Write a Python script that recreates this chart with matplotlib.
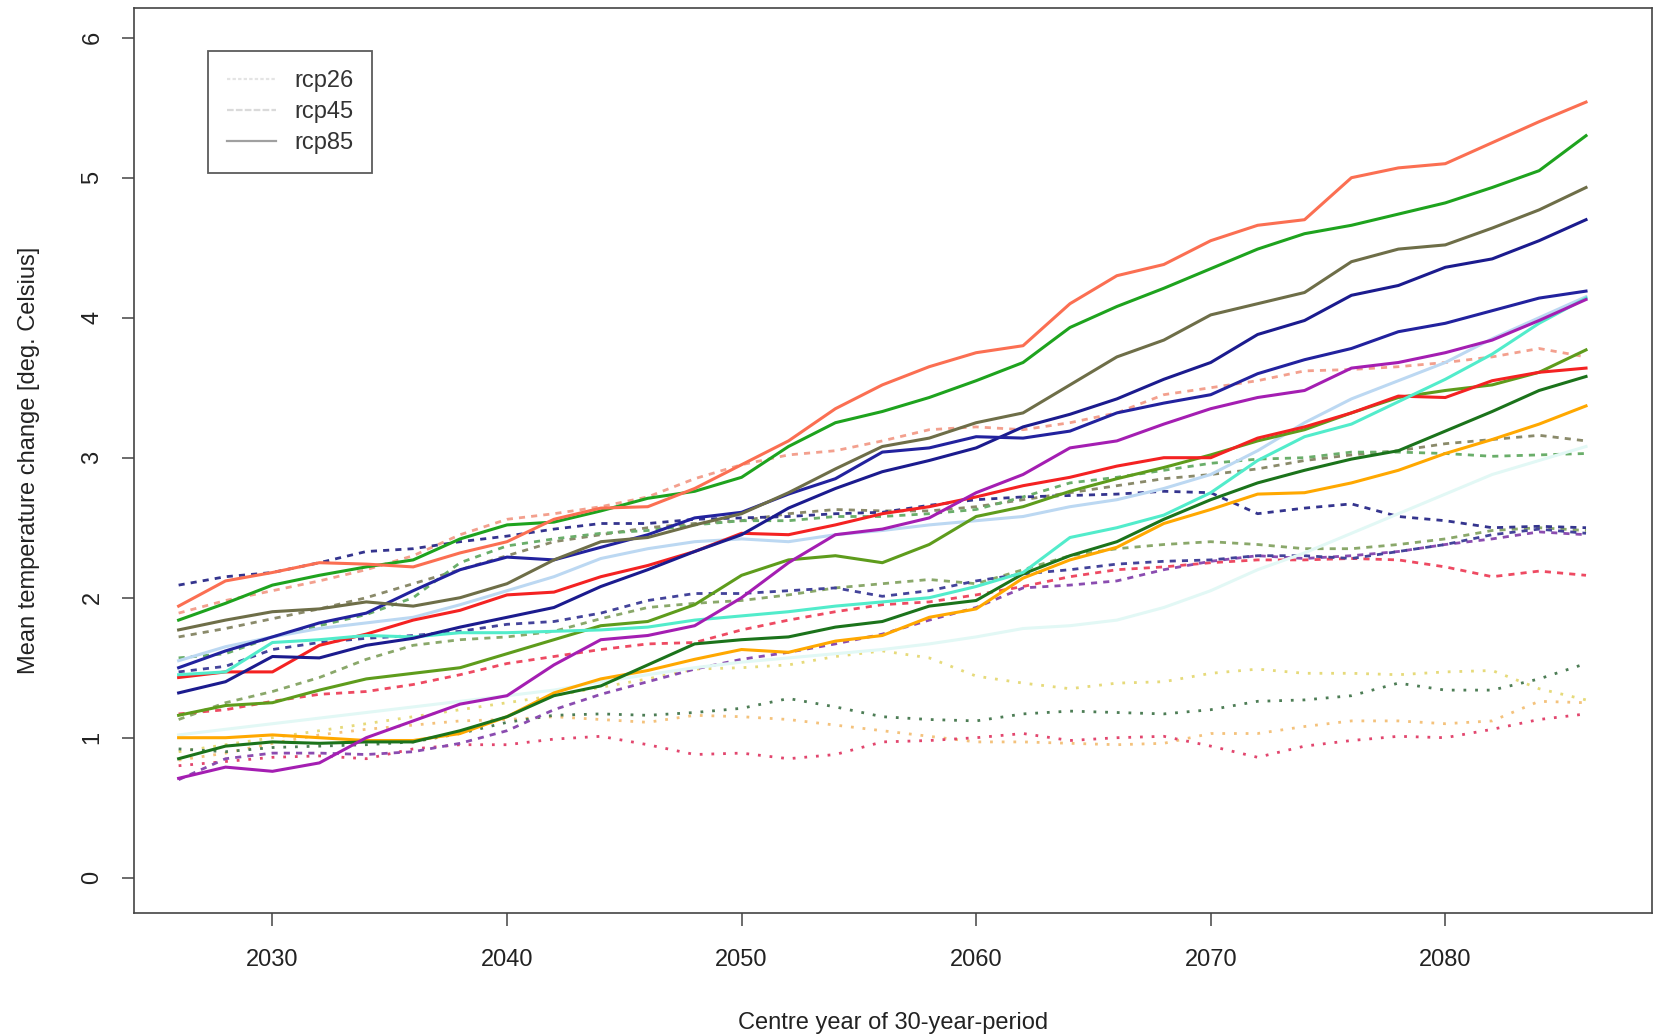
"""
Mean temperature change per model and scenario (rcp26 dotted, rcp45 dashed, rcp85 solid),
30-year running periods. Values read off the original figure.
Output: out.png
"""
import matplotlib.pyplot as plt
from matplotlib.lines import Line2D

# centre years of the 30-year periods (every second year)
years = [2026, 2028, 2030, 2032, 2034, 2036, 2038, 2040, 2042, 2044, 2046,
         2048, 2050, 2052, 2054, 2056, 2058, 2060, 2062, 2064, 2066, 2068,
         2070, 2072, 2074, 2076, 2078, 2080, 2082, 2084, 2086]

# --- rcp85 (solid) ---
salmon_85 = [1.94, 2.12, 2.18, 2.25, 2.24, 2.22, 2.32, 2.40, 2.56, 2.64, 2.65, 2.78, 2.95, 3.12, 3.35, 3.52,
             3.65, 3.75, 3.80, 4.10, 4.30, 4.38, 4.55, 4.66, 4.70, 5.00, 5.07, 5.10, 5.25, 5.40, 5.54]
green_85 = [1.84, 1.96, 2.09, 2.16, 2.22, 2.27, 2.42, 2.52, 2.54, 2.62, 2.71, 2.76, 2.86, 3.08, 3.25, 3.33,
            3.43, 3.55, 3.68, 3.93, 4.08, 4.21, 4.35, 4.49, 4.60, 4.66, 4.74, 4.82, 4.93, 5.05, 5.30]
olive_85 = [1.77, 1.84, 1.90, 1.92, 1.97, 1.94, 2.00, 2.10, 2.27, 2.40, 2.43, 2.52, 2.60, 2.75, 2.92, 3.08,
            3.14, 3.25, 3.32, 3.52, 3.72, 3.84, 4.02, 4.10, 4.18, 4.40, 4.49, 4.52, 4.64, 4.77, 4.93]
navy_a_85 = [1.32, 1.40, 1.58, 1.57, 1.66, 1.71, 1.79, 1.86, 1.93, 2.08, 2.20, 2.33, 2.45, 2.64, 2.78, 2.90,
             2.98, 3.07, 3.22, 3.31, 3.42, 3.56, 3.68, 3.88, 3.98, 4.16, 4.23, 4.36, 4.42, 4.55, 4.70]
navy_b_85 = [1.50, 1.62, 1.72, 1.82, 1.89, 2.05, 2.20, 2.29, 2.27, 2.36, 2.45, 2.57, 2.61, 2.74, 2.85, 3.04,
             3.07, 3.15, 3.14, 3.19, 3.32, 3.39, 3.45, 3.60, 3.70, 3.78, 3.90, 3.96, 4.05, 4.14, 4.19]
lightblue_85 = [1.55, 1.65, 1.72, 1.78, 1.82, 1.86, 1.95, 2.05, 2.15, 2.28, 2.35, 2.40, 2.42, 2.40, 2.45, 2.48,
                2.52, 2.55, 2.58, 2.65, 2.70, 2.78, 2.88, 3.05, 3.25, 3.42, 3.55, 3.68, 3.85, 4.00, 4.15]
magenta_85 = [0.71, 0.79, 0.76, 0.82, 1.00, 1.12, 1.24, 1.30, 1.52, 1.70, 1.73, 1.80, 2.00, 2.25, 2.45, 2.49,
              2.57, 2.75, 2.88, 3.07, 3.12, 3.24, 3.35, 3.43, 3.48, 3.64, 3.68, 3.75, 3.84, 3.98, 4.13]
aqua_85 = [1.45, 1.47, 1.68, 1.70, 1.73, 1.72, 1.75, 1.75, 1.76, 1.77, 1.79, 1.84, 1.87, 1.90, 1.94, 1.97,
           2.00, 2.08, 2.18, 2.43, 2.50, 2.59, 2.75, 2.98, 3.15, 3.24, 3.40, 3.56, 3.74, 3.96, 4.14]
olivedrab_85 = [1.16, 1.23, 1.25, 1.34, 1.42, 1.46, 1.50, 1.60, 1.70, 1.80, 1.83, 1.95, 2.16, 2.27, 2.30, 2.25,
                2.38, 2.58, 2.65, 2.76, 2.85, 2.93, 3.02, 3.12, 3.20, 3.32, 3.43, 3.48, 3.52, 3.61, 3.77]
red_85 = [1.43, 1.47, 1.47, 1.66, 1.74, 1.84, 1.91, 2.02, 2.04, 2.15, 2.23, 2.33, 2.46, 2.45, 2.52, 2.60,
          2.65, 2.72, 2.80, 2.86, 2.94, 3.00, 3.00, 3.14, 3.22, 3.32, 3.44, 3.43, 3.55, 3.61, 3.64]
dkgreen_85 = [0.85, 0.94, 0.97, 0.96, 0.97, 0.97, 1.05, 1.15, 1.30, 1.37, 1.52, 1.67, 1.70, 1.72, 1.79, 1.83,
              1.94, 1.98, 2.17, 2.30, 2.40, 2.56, 2.70, 2.82, 2.91, 2.99, 3.05, 3.19, 3.33, 3.48, 3.58]
orange_85 = [1.00, 1.00, 1.02, 1.00, 0.98, 0.98, 1.03, 1.15, 1.32, 1.42, 1.48, 1.56, 1.63, 1.61, 1.69, 1.73,
             1.86, 1.92, 2.14, 2.27, 2.36, 2.53, 2.63, 2.74, 2.75, 2.82, 2.91, 3.03, 3.13, 3.24, 3.37]
lightcyan_85 = [1.02, 1.06, 1.10, 1.14, 1.18, 1.22, 1.26, 1.30, 1.34, 1.40, 1.45, 1.50, 1.54, 1.57, 1.60, 1.63,
                1.67, 1.72, 1.78, 1.80, 1.84, 1.93, 2.05, 2.20, 2.32, 2.46, 2.60, 2.74, 2.88, 2.98, 3.08]

# --- rcp45 (dashed) ---
navy_b_45 = [2.09, 2.15, 2.18, 2.25, 2.33, 2.35, 2.40, 2.44, 2.49, 2.53, 2.53, 2.56, 2.57, 2.58, 2.60, 2.61,
             2.66, 2.70, 2.72, 2.73, 2.74, 2.76, 2.75, 2.60, 2.64, 2.67, 2.58, 2.55, 2.50, 2.51, 2.50]
navy_a_45 = [1.47, 1.51, 1.63, 1.68, 1.71, 1.73, 1.76, 1.81, 1.83, 1.89, 1.98, 2.03, 2.03, 2.05, 2.07, 2.01,
             2.05, 2.12, 2.17, 2.20, 2.24, 2.26, 2.27, 2.30, 2.30, 2.28, 2.33, 2.38, 2.45, 2.49, 2.46]
salmon_45 = [1.89, 1.98, 2.05, 2.12, 2.20, 2.30, 2.45, 2.56, 2.60, 2.65, 2.72, 2.85, 2.95, 3.02, 3.05, 3.12,
             3.20, 3.22, 3.20, 3.25, 3.32, 3.45, 3.50, 3.55, 3.62, 3.63, 3.65, 3.68, 3.72, 3.78, 3.72]
green_45 = [1.57, 1.60, 1.72, 1.80, 1.88, 2.00, 2.25, 2.37, 2.42, 2.46, 2.48, 2.52, 2.55, 2.55, 2.58, 2.58,
            2.60, 2.63, 2.72, 2.82, 2.86, 2.91, 2.96, 2.99, 3.00, 3.04, 3.04, 3.03, 3.01, 3.02, 3.03]
olive_45 = [1.72, 1.78, 1.85, 1.92, 2.00, 2.10, 2.20, 2.30, 2.40, 2.45, 2.50, 2.53, 2.55, 2.60, 2.63, 2.62,
            2.62, 2.65, 2.70, 2.75, 2.80, 2.85, 2.88, 2.92, 2.98, 3.02, 3.05, 3.10, 3.13, 3.16, 3.12]
red_45 = [1.17, 1.20, 1.26, 1.31, 1.33, 1.38, 1.45, 1.53, 1.58, 1.63, 1.67, 1.68, 1.77, 1.84, 1.90, 1.95,
          1.97, 2.02, 2.08, 2.15, 2.20, 2.22, 2.25, 2.27, 2.27, 2.28, 2.27, 2.22, 2.15, 2.19, 2.16]
magenta_45 = [0.70, 0.85, 0.89, 0.89, 0.88, 0.90, 0.96, 1.05, 1.20, 1.31, 1.40, 1.49, 1.56, 1.61, 1.67, 1.74,
              1.84, 1.93, 2.07, 2.09, 2.12, 2.20, 2.26, 2.30, 2.28, 2.30, 2.33, 2.38, 2.42, 2.47, 2.45]
olivedrab_45 = [1.13, 1.25, 1.33, 1.43, 1.56, 1.66, 1.70, 1.72, 1.76, 1.85, 1.93, 1.96, 1.98, 2.02, 2.07, 2.10,
                2.13, 2.10, 2.20, 2.30, 2.35, 2.38, 2.40, 2.38, 2.35, 2.35, 2.38, 2.42, 2.48, 2.50, 2.48]

# --- rcp26 (dotted) ---
dkgreen_26 = [0.92, 0.90, 0.93, 0.94, 0.95, 0.97, 1.03, 1.11, 1.16, 1.17, 1.16, 1.18, 1.21, 1.28, 1.22, 1.15,
              1.13, 1.12, 1.17, 1.19, 1.18, 1.17, 1.20, 1.26, 1.27, 1.30, 1.39, 1.34, 1.34, 1.42, 1.53]
yellow_26 = [0.90, 0.95, 1.00, 1.05, 1.10, 1.15, 1.20, 1.25, 1.30, 1.36, 1.42, 1.49, 1.50, 1.52, 1.58, 1.62,
             1.57, 1.44, 1.39, 1.35, 1.39, 1.40, 1.46, 1.49, 1.46, 1.46, 1.45, 1.47, 1.48, 1.35, 1.27]
orange_26 = [0.84, 0.89, 0.96, 1.02, 1.06, 1.09, 1.12, 1.13, 1.15, 1.13, 1.11, 1.16, 1.15, 1.13, 1.09, 1.05,
             1.01, 0.97, 0.97, 0.96, 0.95, 0.96, 1.03, 1.03, 1.08, 1.12, 1.12, 1.10, 1.12, 1.26, 1.25]
red_26 = [0.80, 0.83, 0.86, 0.87, 0.85, 0.92, 0.95, 0.95, 0.99, 1.01, 0.95, 0.88, 0.89, 0.85, 0.88, 0.97,
          0.98, 1.00, 1.03, 0.98, 1.00, 1.01, 0.94, 0.86, 0.94, 0.98, 1.01, 1.00, 1.06, 1.13, 1.17]

scenarios = ["rcp26", "rcp45", "rcp85"]

DOTTED = (0, (1.0, 3.2))
DASHED = (0, (2.2, 2.2))


def main():
    plt.rcParams["font.family"] = ["Liberation Sans", "DejaVu Sans"]

    fig = plt.figure(figsize=(16.55, 10.36), dpi=100)
    ax = fig.add_axes([0.081, 0.119, 0.917, 0.873])

    # drawing order: rcp26, rcp45, then rcp85 on top
    dotted = [
        (yellow_26, "#e6da7a"),
        (orange_26, "#f4c27c"),
        (red_26, "#e2466e"),
        (dkgreen_26, "#4d7d55"),
    ]
    dashed = [
        (salmon_45, "#f3a08e"),
        (olive_45, "#8a8a6a"),
        (green_45, "#6aae6a"),
        (olivedrab_45, "#8aa86a"),
        (red_45, "#ee4a62"),
        (magenta_45, "#8a4cb0"),
        (navy_a_45, "#43439a"),
        (navy_b_45, "#34348e"),
    ]
    solid = [
        (lightcyan_85, "#e2f8f5"),
        (lightblue_85, "#bcd8f2"),
        (orange_85, "#ffa800"),
        (dkgreen_85, "#1b731b"),
        (olivedrab_85, "#5e9c1c"),
        (red_85, "#f42222"),
        (aqua_85, "#52eccb"),
        (magenta_85, "#a41eb2"),
        (navy_a_85, "#1b1b8e"),
        (navy_b_85, "#22229e"),
        (olive_85, "#6e6e48"),
        (green_85, "#1ea31e"),
        (salmon_85, "#fb6f52"),
    ]
    for vals, col in dotted:
        ax.plot(years, vals, color=col, linestyle=DOTTED, linewidth=2.0, dash_capstyle="butt")
    for vals, col in dashed:
        ax.plot(years, vals, color=col, linestyle=DASHED, linewidth=2.0, dash_capstyle="butt")
    for vals, col in solid:
        ax.plot(years, vals, color=col, linestyle="-", linewidth=2.2)

    ax.set_xlim(2024.1, 2088.8)
    ax.set_ylim(-0.25, 6.21)
    ax.set_xticks([2030, 2040, 2050, 2060, 2070, 2080])
    ax.set_yticks([0, 1, 2, 3, 4, 5, 6])

    for sp in ax.spines.values():
        sp.set_color("#444444")
        sp.set_linewidth(1.2)
    ax.tick_params(direction="out", length=9, width=1.1, color="#444444",
                   labelsize=17, labelcolor="#222222", pad=17)
    ax.tick_params(axis="y", labelrotation=90, pad=13)
    for lab in ax.get_yticklabels():
        lab.set_va("center")

    ax.set_xlabel("Centre year of 30-year-period", fontsize=17, color="#222222")
    ax.set_ylabel("Mean temperature change [deg. Celsius]", fontsize=17, color="#222222")
    ax.xaxis.set_label_coords(0.5, -0.122)
    ax.xaxis.label.set_va("center")
    ax.yaxis.set_label_coords(-0.069, 0.5)
    ax.yaxis.label.set_va("center")
    ax.yaxis.label.set_ha("center")

    handles = [
        Line2D([], [], color="#e4e4e4", linewidth=1.6, linestyle=(0, (1.5, 1.0))),
        Line2D([], [], color="#dadada", linewidth=1.6, linestyle=(0, (3.0, 1.0))),
        Line2D([], [], color="#a0a0a0", linewidth=1.6, linestyle="-"),
    ]
    leg = ax.legend(handles, scenarios, loc="upper left", bbox_to_anchor=(0.0487, 0.9525),
                    borderaxespad=0, fontsize=17, frameon=True, fancybox=False,
                    handlelength=2.1, handletextpad=0.75, borderpad=0.8, labelspacing=0.38)
    leg.get_frame().set_edgecolor("#333333")
    leg.get_frame().set_linewidth(1.3)
    for t in leg.get_texts():
        t.set_color("#333333")

    fig.savefig("out.png", dpi=100)
    plt.close(fig)


if __name__ == "__main__":
    main()
